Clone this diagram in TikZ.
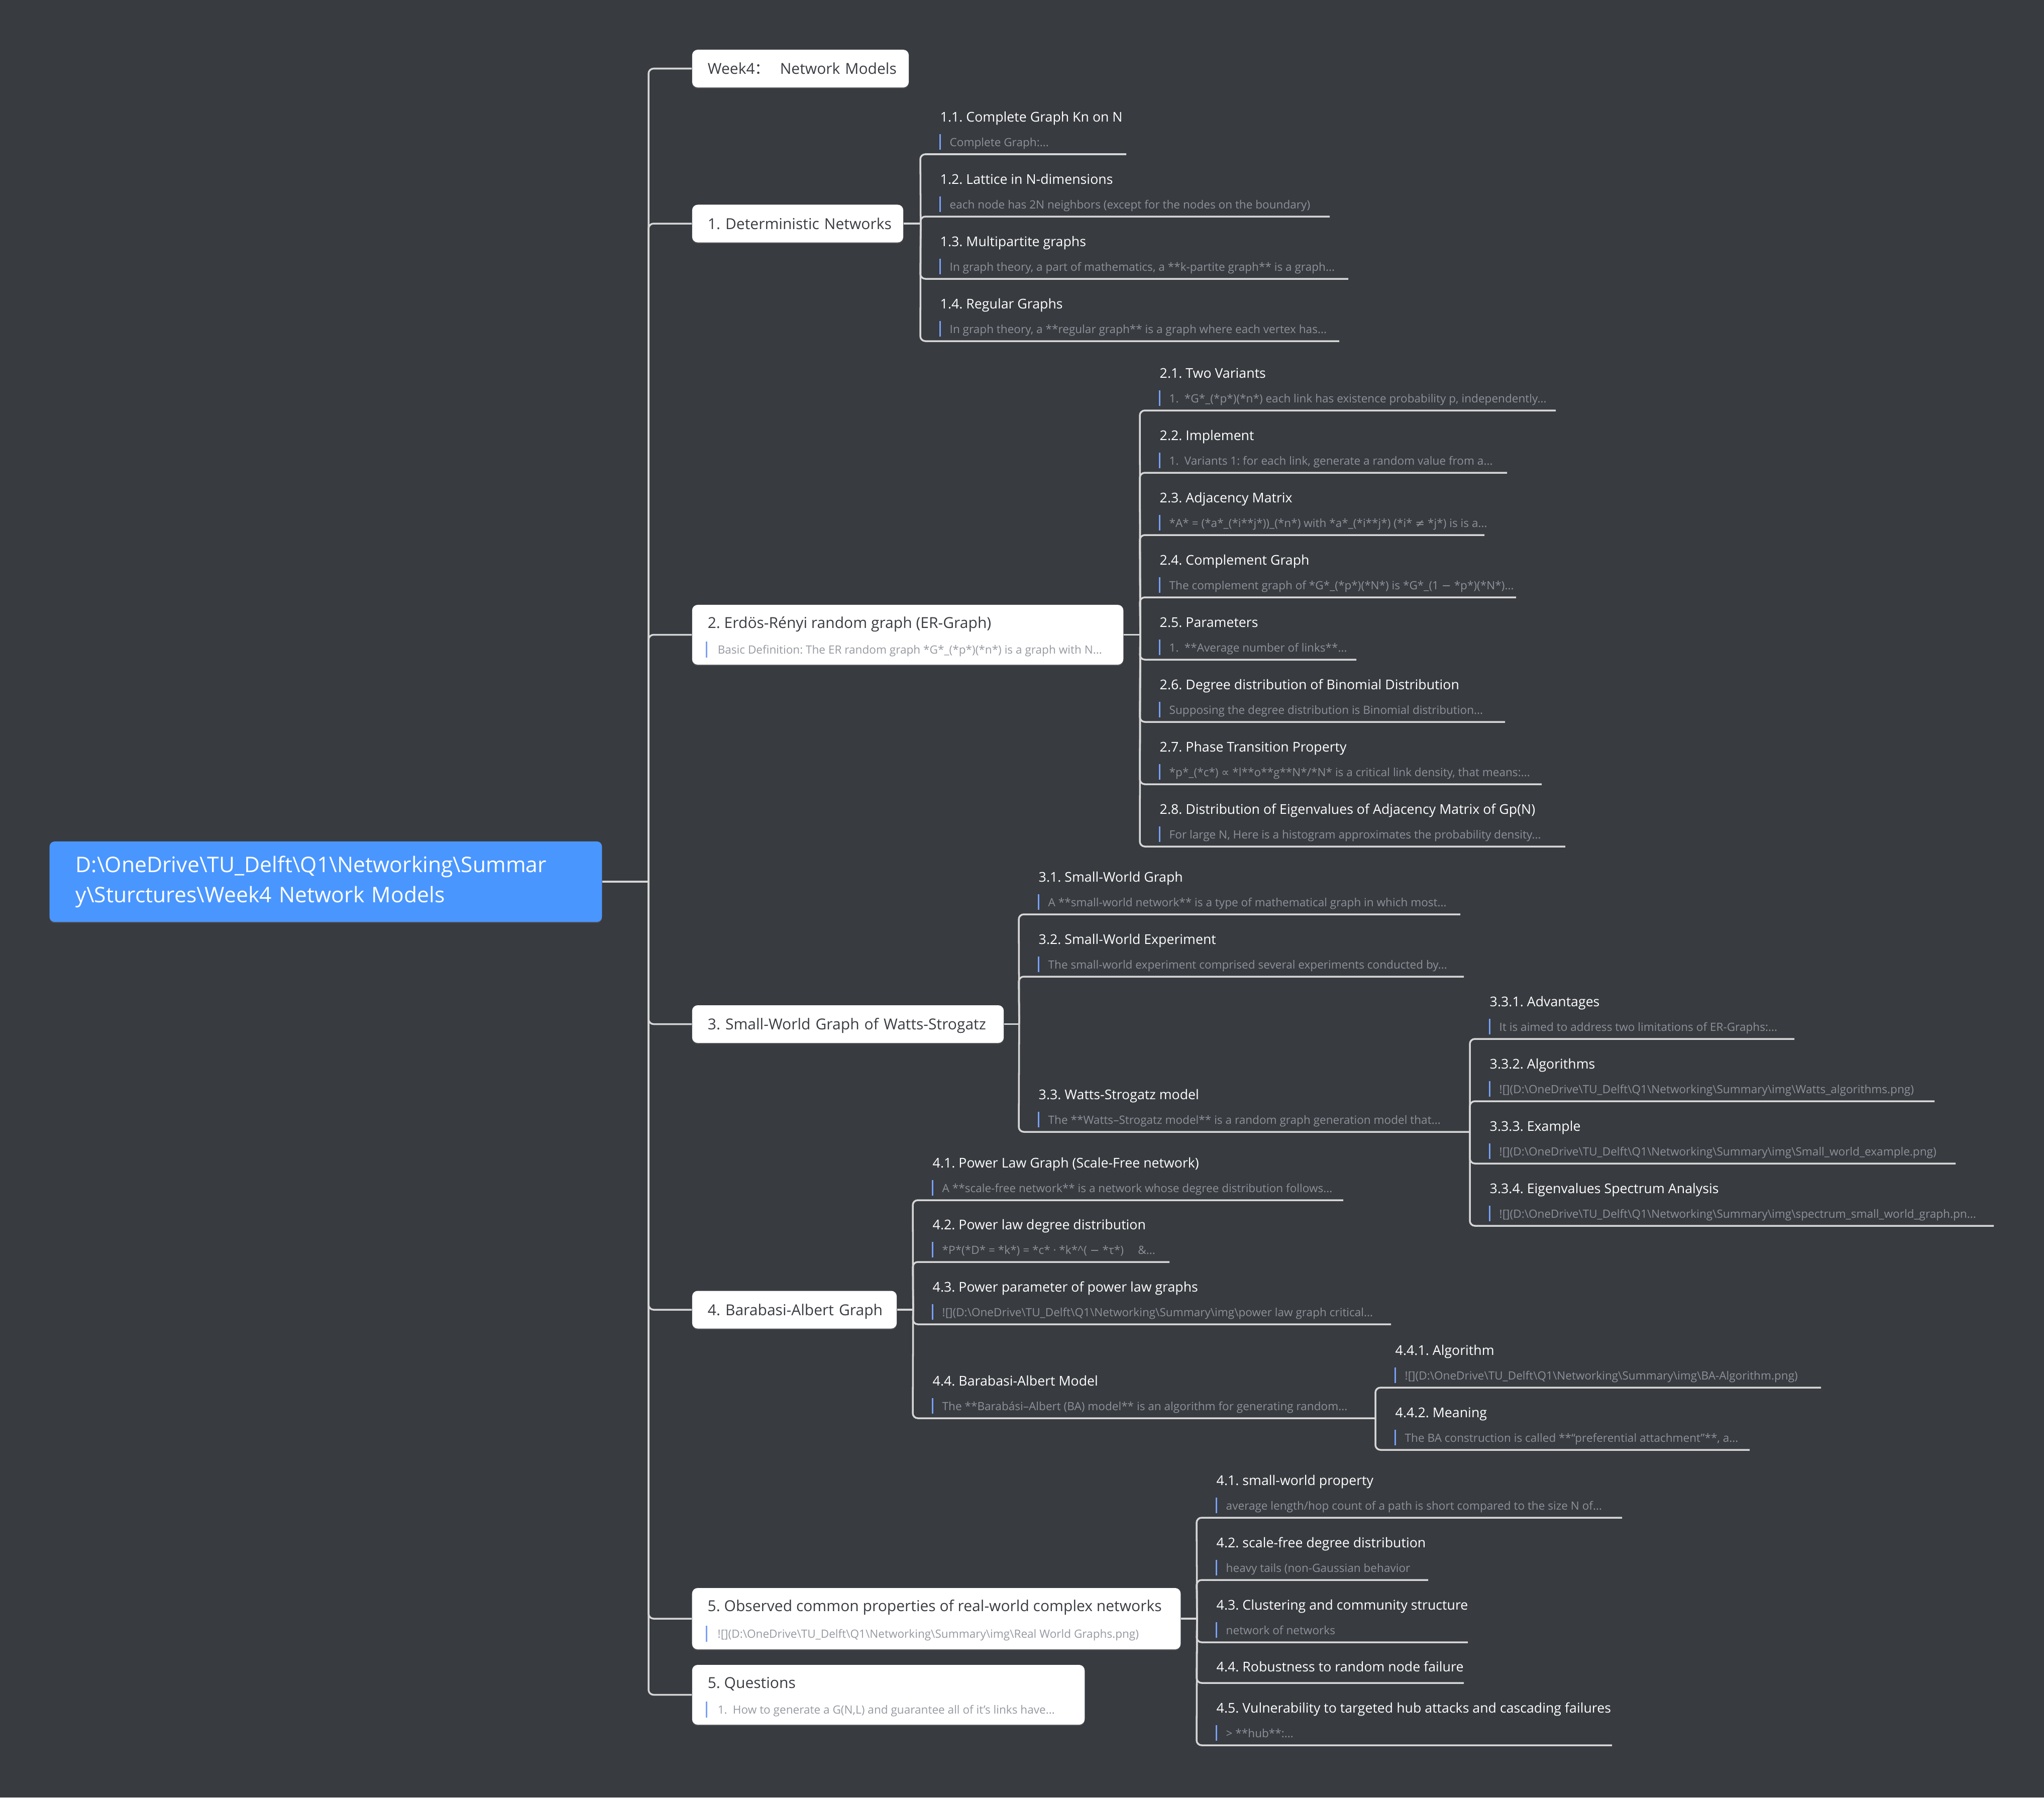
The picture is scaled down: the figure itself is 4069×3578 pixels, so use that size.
\documentclass[tikz,border=0pt]{standalone}
\usepackage{fontspec}
\setmainfont{Open Sans}
\newfontfamily\cjkfont{Noto Sans CJK SC}
\newfontfamily\symfont{DejaVu Sans}
\usepackage{tikz}
\usetikzlibrary{calc,shadows}
\definecolor{bgdark}{RGB}{56,59,64}
\definecolor{rootblue}{RGB}{74,150,255}
\definecolor{linegray}{RGB}{214,214,214}
\definecolor{boxtext}{RGB}{58,60,66}
\definecolor{boxnotegray}{RGB}{150,153,160}
\definecolor{notegray}{RGB}{142,145,152}
\definecolor{barblue}{RGB}{120,160,245}
\newcommand{\rootfs}{\fontsize{12.15pt}{17.07pt}\selectfont}
\newcommand{\mainfs}{\fontsize{8.54pt}{10pt}\selectfont}
\newcommand{\subfs}{\fontsize{7.6pt}{9pt}\selectfont}
\newcommand{\notefs}{\fontsize{6.42pt}{8pt}\selectfont}
\newcommand{\bsl}{\textbackslash}
\newcommand{\imgpath}{D:\bsl OneDrive\bsl TU\_Delft\bsl Q1\bsl Networking\bsl Summary\bsl img\bsl}
\frenchspacing
\tikzset{
  basebox/.style={rectangle,rounded corners=0.11cm,inner ysep=0pt,inner xsep=0.31cm,align=left},
  rootbox/.style={basebox,fill=rootblue,text=white,font=\rootfs,inner xsep=0.52cm,rounded corners=0.1cm,
    drop shadow={shadow xshift=0pt,shadow yshift=-0.6pt,opacity=0.35}},
  mainbox/.style={basebox,fill=white,text=boxtext,font=\mainfs,minimum height=0.75cm,text height=0.22cm,text depth=0pt,
    drop shadow={shadow xshift=0pt,shadow yshift=-0.6pt,opacity=0.35}},
  infobox/.style={basebox,fill=white,drop shadow={shadow xshift=0pt,shadow yshift=-0.6pt,opacity=0.35}},
  boxtitle/.style={anchor=base west,inner sep=0pt,text=boxtext,font=\mainfs},
  boxnote/.style={anchor=base west,inner sep=0pt,text=boxnotegray,font=\notefs},
  subtitle/.style={anchor=base west,inner sep=0pt,text=white,font=\subfs},
  notetext/.style={anchor=base west,inner sep=0pt,text=notegray,font=\notefs},
  notebar/.style={draw=barblue,line width=0.85pt},
  link/.style={draw=linegray,line width=1pt,rounded corners=0.1cm}
}
\newcommand{\subtopic}[6]{%
  \coordinate (#1) at (#2,#3);
  \coordinate (#1-e) at (#4,#3);
  \node[subtitle] (#1-t) at ($(#1)+(39,-65)$) {#5};
  \draw[notebar] ($(#1)+(39,-40)$) -- ($(#1)+(39,-9)$);
  \node[notetext] (#1-n) at ($(#1)+(58,-16)$) {#6};}

\begin{document}
\begin{tikzpicture}[x=0.01cm,y=-0.01cm]
  \useasboundingbox (0,0) rectangle (4069,3578);
  \fill[bgdark] (0,0) rectangle (4069,3578);

  \node[rootbox,text width=9.95cm,minimum height=1.6cm] (root) at (648.5,1755)
    {D:\bsl OneDrive\bsl TU\_Delft\bsl Q1\bsl Networking\bsl Summar\\y\bsl Sturctures\bsl Week4 Network Models};

  \node[mainbox,text width=3.69cm] (week) at (1593.5,136.5) {\mbox{Week4{\cjkfont ：}\ \ Network Models}};
  \node[mainbox,text width=3.58cm] (det) at (1588,445) {\mbox{1. Deterministic Networks}};
  \node[infobox,minimum width=8.58cm,minimum height=1.19cm] (er) at (1807,1263.5) {};
  \node[boxtitle] (er-t) at ($(er.north west)+(31,47)$) {2. Erdös-Rényi random graph (ER-Graph)};
  \draw[notebar] ($(er.north west)+(29,74)$) -- ++(0,32);
  \node[boxnote] (er-n) at ($(er.north west)+(51,98)$) {Basic Definition: The ER random graph *G*\_(*p*)(*n*) is a graph with N...};
  \node[mainbox,text width=5.58cm] (sw) at (1688,2038.5) {\mbox{3. Small-World Graph of Watts-Strogatz}};
  \node[mainbox,text width=3.45cm] (ba) at (1581.5,2607) {\mbox{4. Barabasi-Albert Graph}};
  \node[infobox,minimum width=9.72cm,minimum height=1.22cm] (obs) at (1864,3222) {};
  \node[boxtitle] (obs-t) at ($(obs.north west)+(31,47)$) {5. Observed common properties of real-world complex networks};
  \draw[notebar] ($(obs.north west)+(29,76)$) -- ++(0,32);
  \node[boxnote] (obs-n) at ($(obs.north west)+(51,100)$) {![](\imgpath Real World Graphs.png)};
  \node[infobox,minimum width=7.81cm,minimum height=1.19cm] (quest) at (1768.5,3373.5) {};
  \node[boxtitle] (quest-t) at ($(quest.north west)+(31,47)$) {5. Questions};
  \draw[notebar] ($(quest.north west)+(29,74)$) -- ++(0,32);
  \node[boxnote] (quest-n) at ($(quest.north west)+(51,98)$) {1.\enspace How to generate a G(N,L) and guarantee all of it's links have...};

  \coordinate (hub) at ($(root.east)+(92,0)$);
  \draw[link] (root.east) -- (hub);
  \draw[link] (hub) |- (week.west); \draw[link] (hub) |- (det.west); \draw[link] (hub) |- (er.west);
  \draw[link] (hub) |- (sw.west); \draw[link] (hub) |- (ba.west); \draw[link] (hub) |- (obs.west);
  \draw[link] (hub) |- (quest.west);

  \coordinate (b1) at ($(det.east)+(34,0)$);
  \subtopic{t11}{1832}{307}{2242}{1.1. Complete Graph Kn on N}{Complete Graph:...}
  \subtopic{t12}{1832}{431}{2647}{1.2. Lattice in N-dimensions}{each node has 2N neighbors (except for the nodes on the boundary)}
  \subtopic{t13}{1832}{555}{2684}{1.3. Multipartite graphs}{In graph theory, a part of mathematics, a **k-partite graph** is a graph...}
  \subtopic{t14}{1832}{679}{2666}{1.4. Regular Graphs}{In graph theory, a **regular graph** is a graph where each vertex has...}
  \draw[link] (det.east) -- (b1);
  \draw[link] (b1) -- (t11) -- (t11-e); \draw[link] (b1) -- (t12) -- (t12-e);
  \draw[link] (b1) -- (t13) -- (t13-e); \draw[link] (b1) -- (t14) -- (t14-e);

  \coordinate (b2) at ($(er.east)+(33,0)$);
  \subtopic{t21}{2269}{817}{3097}{2.1. Two Variants}{1.\enspace *G*\_(*p*)(*n*) each link has existence probability p, independently...}
  \subtopic{t22}{2269}{941}{3000}{2.2. Implement}{1.\enspace Variants 1: for each link, generate a random value from a...}
  \subtopic{t23}{2269}{1065}{2955}{2.3. Adjacency Matrix}{*A* = (*a*\_(*i**j*))\_(*n*) with *a*\_(*i**j*) (*i* {\symfont ≠} *j*) is is a...}
  \subtopic{t24}{2269}{1189}{3018}{2.4. Complement Graph}{The complement graph of *G*\_(*p*)(*N*) is *G*\_(1 {\symfont −} *p*)(*N*)...}
  \subtopic{t25}{2269}{1313}{2700}{2.5. Parameters}{1.\enspace **Average number of links**...}
  \subtopic{t26}{2269}{1437}{2996}{2.6. Degree distribution of Binomial Distribution}{Supposing the degree distribution is Binomial distribution...}
  \subtopic{t27}{2269}{1561}{3069}{2.7. Phase Transition Property}{*p*\_(*c*) {\symfont ∝} *l**o**g**N*/*N* is a critical link density, that means:...}
  \subtopic{t28}{2269}{1685}{3116}{2.8. Distribution of Eigenvalues of Adjacency Matrix of Gp(N)}{For large N, Here is a histogram approximates the probability density...}
  \draw[link] (er.east) -- (b2);
  \draw[link] (b2) -- (t21) -- (t21-e); \draw[link] (b2) -- (t22) -- (t22-e);
  \draw[link] (b2) -- (t23) -- (t23-e); \draw[link] (b2) -- (t24) -- (t24-e);
  \draw[link] (b2) -- (t25) -- (t25-e); \draw[link] (b2) -- (t26) -- (t26-e);
  \draw[link] (b2) -- (t27) -- (t27-e); \draw[link] (b2) -- (t28) -- (t28-e);

  \coordinate (b3) at ($(sw.east)+(30,0)$);
  \subtopic{t31}{2028}{1820}{2907}{3.1. Small-World Graph}{A **small-world network** is a type of mathematical graph in which most...}
  \subtopic{t32}{2028}{1944}{2914}{3.2. Small-World Experiment}{The small-world experiment comprised several experiments conducted by...}
  \subtopic{t33}{2028}{2253}{2926}{3.3. Watts-Strogatz model}{The **Watts–Strogatz model** is a random graph generation model that...}
  \subtopic{t331}{2926}{2068}{3572}{3.3.1. Advantages}{It is aimed to address two limitations of ER-Graphs:...}
  \subtopic{t332}{2926}{2192}{3851}{3.3.2. Algorithms}{![](\imgpath Watts\_algorithms.png)}
  \subtopic{t333}{2926}{2316}{3893}{3.3.3. Example}{![](\imgpath Small\_world\_example.png)}
  \subtopic{t334}{2926}{2440}{3969}{3.3.4. Eigenvalues Spectrum Analysis}{![](\imgpath spectrum\_small\_world\_graph.pn...}
  \draw[link] (sw.east) -- (b3);
  \draw[link] (b3) -- (t31) -- (t31-e); \draw[link] (b3) -- (t32) -- (t32-e);
  \draw[link] (b3) -- (t33) -- (t33-e);
  \draw[link] (t33-e) -- (t331) -- (t331-e); \draw[link] (t33-e) -- (t332) -- (t332-e);
  \draw[link] (t33-e) -- (t333) -- (t333-e); \draw[link] (t33-e) -- (t334) -- (t334-e);

  \coordinate (b4) at ($(ba.east)+(32,0)$);
  \subtopic{t41}{1817}{2389}{2674}{4.1. Power Law Graph (Scale-Free network)}{A **scale-free network** is a network whose degree distribution follows...}
  \subtopic{t42}{1817}{2512}{2328}{4.2. Power law degree distribution}{*P*(*D* = *k*) = *c* · *k*\textasciicircum( {\symfont −} *τ*)\quad\ \&...}
  \subtopic{t43}{1817}{2636}{2769}{4.3. Power parameter of power law graphs}{![](\imgpath power law graph critical...}
  \subtopic{t44}{1817}{2823}{2738}{4.4. Barabasi-Albert Model}{The **Barabási–Albert (BA) model** is an algorithm for generating random...}
  \subtopic{t441}{2738}{2762}{3625}{4.4.1. Algorithm}{![](\imgpath BA-Algorithm.png)}
  \subtopic{t442}{2738}{2886}{3483}{4.4.2. Meaning}{The BA construction is called **“preferential attachment”**, a...}
  \draw[link] (ba.east) -- (b4);
  \draw[link] (b4) -- (t41) -- (t41-e); \draw[link] (b4) -- (t42) -- (t42-e);
  \draw[link] (b4) -- (t43) -- (t43-e); \draw[link] (b4) -- (t44) -- (t44-e);
  \draw[link] (t44-e) -- (t441) -- (t441-e); \draw[link] (t44-e) -- (t442) -- (t442-e);

  \coordinate (b5) at ($(obs.east)+(32,0)$);
  \subtopic{t51}{2382}{3021}{3229}{4.1. small-world property}{average length/hop count of a path is short compared to the size N of...}
  \subtopic{t52}{2382}{3145}{2843}{4.2. scale-free degree distribution}{heavy tails (non-Gaussian behavior}
  \subtopic{t53}{2382}{3269}{2922}{4.3. Clustering and community structure}{network of networks}
  \coordinate (t54) at (2382,3350); \coordinate (t54-e) at (2914,3350);
  \node[subtitle] (t54-t) at ($(t54)+(39,-23)$) {4.4. Robustness to random node failure};
  \subtopic{t55}{2382}{3474}{3209}{4.5. Vulnerability to targeted hub attacks and cascading failures}{> **hub**:...}
  \draw[link] (obs.east) -- (b5);
  \draw[link] (b5) -- (t51) -- (t51-e); \draw[link] (b5) -- (t52) -- (t52-e);
  \draw[link] (b5) -- (t53) -- (t53-e); \draw[link] (b5) -- (t54) -- (t54-e);
  \draw[link] (b5) -- (t55) -- (t55-e);
\end{tikzpicture}
\end{document}
